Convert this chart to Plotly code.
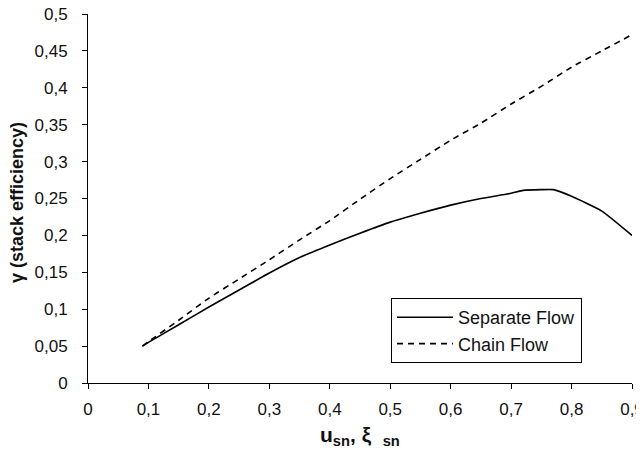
import plotly.graph_objects as go

x_sep = [0.09, 0.1, 0.15, 0.2, 0.25, 0.3, 0.35, 0.4, 0.45, 0.5, 0.55, 0.6, 0.65, 0.7, 0.72, 0.75, 0.77, 0.8, 0.85, 0.9]
y_sep = [0.050, 0.055, 0.079, 0.103, 0.126, 0.149, 0.170, 0.187, 0.203, 0.218, 0.230, 0.241, 0.250, 0.257, 0.261, 0.262, 0.262, 0.253, 0.233, 0.200]

x_chain = [0.09, 0.1, 0.15, 0.2, 0.25, 0.3, 0.35, 0.4, 0.45, 0.5, 0.55, 0.6, 0.65, 0.7, 0.75, 0.8, 0.85, 0.9]
y_chain = [0.050, 0.056, 0.085, 0.115, 0.141, 0.167, 0.194, 0.220, 0.249, 0.277, 0.303, 0.329, 0.352, 0.378, 0.402, 0.428, 0.450, 0.472]

x_ticks = [0, 0.1, 0.2, 0.3, 0.4, 0.5, 0.6, 0.7, 0.8, 0.9]
x_ticktext = ["0", "0,1", "0,2", "0,3", "0,4", "0,5", "0,6", "0,7", "0,8", "0,9"]
y_ticks = [0, 0.05, 0.1, 0.15, 0.2, 0.25, 0.3, 0.35, 0.4, 0.45, 0.5]
y_ticktext = ["0", "0,05", "0,1", "0,15", "0,2", "0,25", "0,3", "0,35", "0,4", "0,45", "0,5"]

FONT = "Liberation Sans, Arial, sans-serif"

fig = go.Figure()
fig.add_trace(go.Scatter(x=x_sep, y=y_sep, mode="lines", name="Separate Flow",
                         line=dict(color="black", width=1.6, shape="spline", smoothing=0.5)))
fig.add_trace(go.Scatter(x=x_chain, y=y_chain, mode="lines", name="Chain Flow",
                         line=dict(color="black", width=1.6, dash="6px,5px", shape="spline", smoothing=0.5)))

axis_common = dict(showline=True, linecolor="black", linewidth=1, ticks="outside",
                   ticklen=5, tickcolor="black", showgrid=False, zeroline=False,
                   automargin=False, ticklabeloverflow="allow",
                   tickfont=dict(family=FONT, size=17, color="#111"))

fig.update_layout(
    width=644, height=452,
    margin=dict(l=80, r=20, t=6, b=77, autoexpand=False),
    paper_bgcolor="white", plot_bgcolor="white",
    xaxis=dict(range=[0, 0.9], tickvals=x_ticks, ticktext=x_ticktext,
               ticklabelstandoff=6, **axis_common),
    yaxis=dict(range=[0, 0.5], tickvals=y_ticks, ticktext=y_ticktext,
               ticklabelstandoff=11, **axis_common),
    legend=dict(x=0.557, y=0.2304, xanchor="left", yanchor="top",
                bordercolor="black", borderwidth=1, bgcolor="white",
                font=dict(family=FONT, size=18, color="#111"),
                itemwidth=56, tracegroupgap=0),
    showlegend=True,
    annotations=[
        dict(text="<b>γ (stack efficiency)</b>", xref="paper", yref="paper",
             x=(9.0 - 80) / 544, y=(375 - 195) / 369, xanchor="center", yanchor="middle",
             textangle=-90, showarrow=False,
             font=dict(family=FONT, size=18, color="#111")),
        dict(text="<b>u<sub>sn</sub>, ξ  <sub>sn</sub></b>", xref="paper", yref="paper",
             x=0.5, y=-(428 - 375) / 369, xanchor="center", yanchor="middle",
             showarrow=False, font=dict(family=FONT, size=21, color="#111")),
    ],
)

fig.write_html("out.html")
